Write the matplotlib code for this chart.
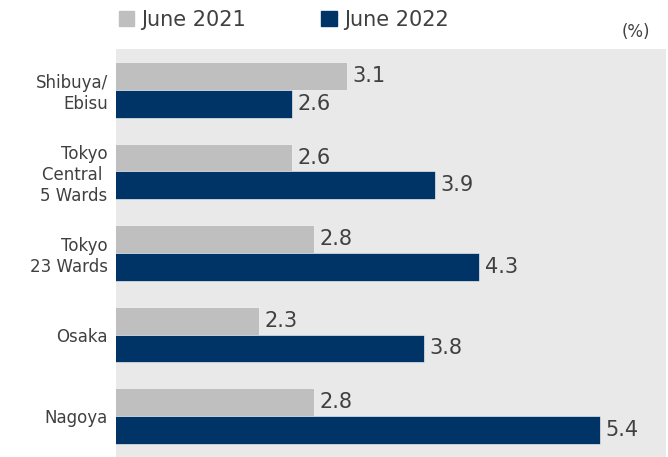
import numpy as np
import matplotlib.pyplot as plt
from matplotlib.patches import Patch

plt.rcParams['font.family'] = ['DejaVu Sans']

cities = ["Shibuya/\nEbisu", "Tokyo\nCentral \n5 Wards", "Tokyo\n23 Wards", "Osaka", "Nagoya"]
june_2021 = [3.1, 2.6, 2.8, 2.3, 2.8]
june_2022 = [2.6, 3.9, 4.3, 3.8, 5.4]
series_names = ["June 2021", "June 2022"]

gray = "#bfbfbf"
navy = "#003366"
text_col = "#404040"

fig = plt.figure(figsize=(6.68, 4.57), dpi=100)
ax = fig.add_axes([116 / 668, 0, 550 / 668, 408 / 457])
ax.set_facecolor("#e9e9e9")

y = np.arange(len(cities))
h = 0.34
b1 = ax.barh(y - h / 2, june_2021, height=h, color=gray, edgecolor="white", linewidth=0.4)
b2 = ax.barh(y + h / 2, june_2022, height=h, color=navy, edgecolor="white", linewidth=0.4)

for bars, vals in ((b1, june_2021), (b2, june_2022)):
    for bar, v in zip(bars, vals):
        ax.annotate(f"{v:.1f}", (v, bar.get_y() + bar.get_height() / 2),
                    xytext=(4, 0), textcoords="offset points",
                    va="center", ha="left", fontsize=15, color=text_col)

ax.set_xlim(1.0, 6.0)
ax.set_ylim(len(cities) - 0.5, -0.5)
ax.set_yticks(y)
ax.set_yticklabels(cities, fontsize=12, color=text_col, ha="right", multialignment="right")
ax.tick_params(axis="y", length=0, pad=6)
ax.set_xticks([])
for s in ax.spines.values():
    s.set_visible(False)

handles = [Patch(color=gray), Patch(color=navy)]
fig.legend(handles, series_names, ncol=2, loc="upper left",
           bbox_to_anchor=(100 / 668, 1.02), frameon=False, fontsize=15,
           handlelength=0.75, handleheight=0.75, handletextpad=0.34,
           columnspacing=3.6, labelcolor=text_col)

fig.text(650 / 668, 1 - 32 / 457, "(%)", ha="right", va="center", fontsize=12, color=text_col)

fig.savefig("out.png", dpi=100)
